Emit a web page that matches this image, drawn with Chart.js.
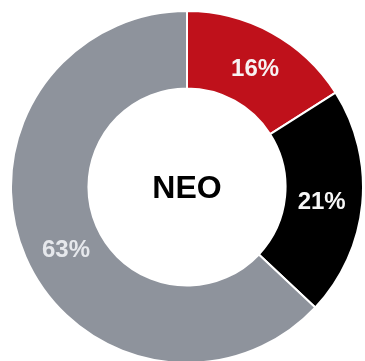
<!DOCTYPE html>
<html>
<head>
<meta charset="utf-8">
<script src="https://cdn.jsdelivr.net/npm/chart.js@4/dist/chart.umd.min.js"></script>
<style>
    html, body { margin: 0; padding: 0; background: #fff; overflow: hidden; width: 365px; height: 361px; }
    #wrap { position: absolute; left: 10px; top: 10px; width: 354px; height: 354px; }
</style>
</head>
<body>
<div id="wrap"><canvas id="neoChart"></canvas></div>
<script>
const categories = ['Red', 'Black', 'Gray'];
const shares = [16, 21, 63];
const sliceColors = ['#bf111b', '#000000', '#8e939c'];
const labelColors = ['#f7f2f2', '#f7f7f7', '#e6e8ec'];
const centerText = 'NEO';

// small nudges so the labels sit where the original put them
const labelNudge = [[2, 3], [-2, 2], [5, 9]];

// draws the percent labels on each slice and the word in the middle
const sliceLabels = {
    id: 'sliceLabels',
    afterDatasetsDraw(chart) {
        const ctx = chart.ctx;
        const meta = chart.getDatasetMeta(0);
        ctx.save();
        ctx.textAlign = 'center';
        ctx.textBaseline = 'middle';
        ctx.font = 'bold 24px "Liberation Sans", Arial, sans-serif';
        meta.data.forEach((arc, i) => {
            const pos = arc.tooltipPosition();
            ctx.fillStyle = labelColors[i];
            ctx.fillText(shares[i] + '%', pos.x + labelNudge[i][0], pos.y + labelNudge[i][1]);
        });
        const first = meta.data[0];
        ctx.fillStyle = '#000';
        ctx.font = 'bold 32px "Liberation Sans", Arial, sans-serif';
        ctx.fillText(centerText, first.x, first.y + 2);
        ctx.restore();
    }
};

new Chart(document.getElementById('neoChart'), {
    type: 'doughnut',
    data: {
        labels: categories,
        datasets: [{
            data: shares,
            backgroundColor: sliceColors,
            borderColor: '#ffffff',
            borderWidth: 2
        }]
    },
    options: {
        responsive: true,
        maintainAspectRatio: false,
        animation: false,
        cutout: '56%',
        layout: { padding: 0 },
        plugins: {
            legend: { display: false },
            tooltip: { enabled: false }
        }
    },
    plugins: [sliceLabels]
});
</script>
</body>
</html>
